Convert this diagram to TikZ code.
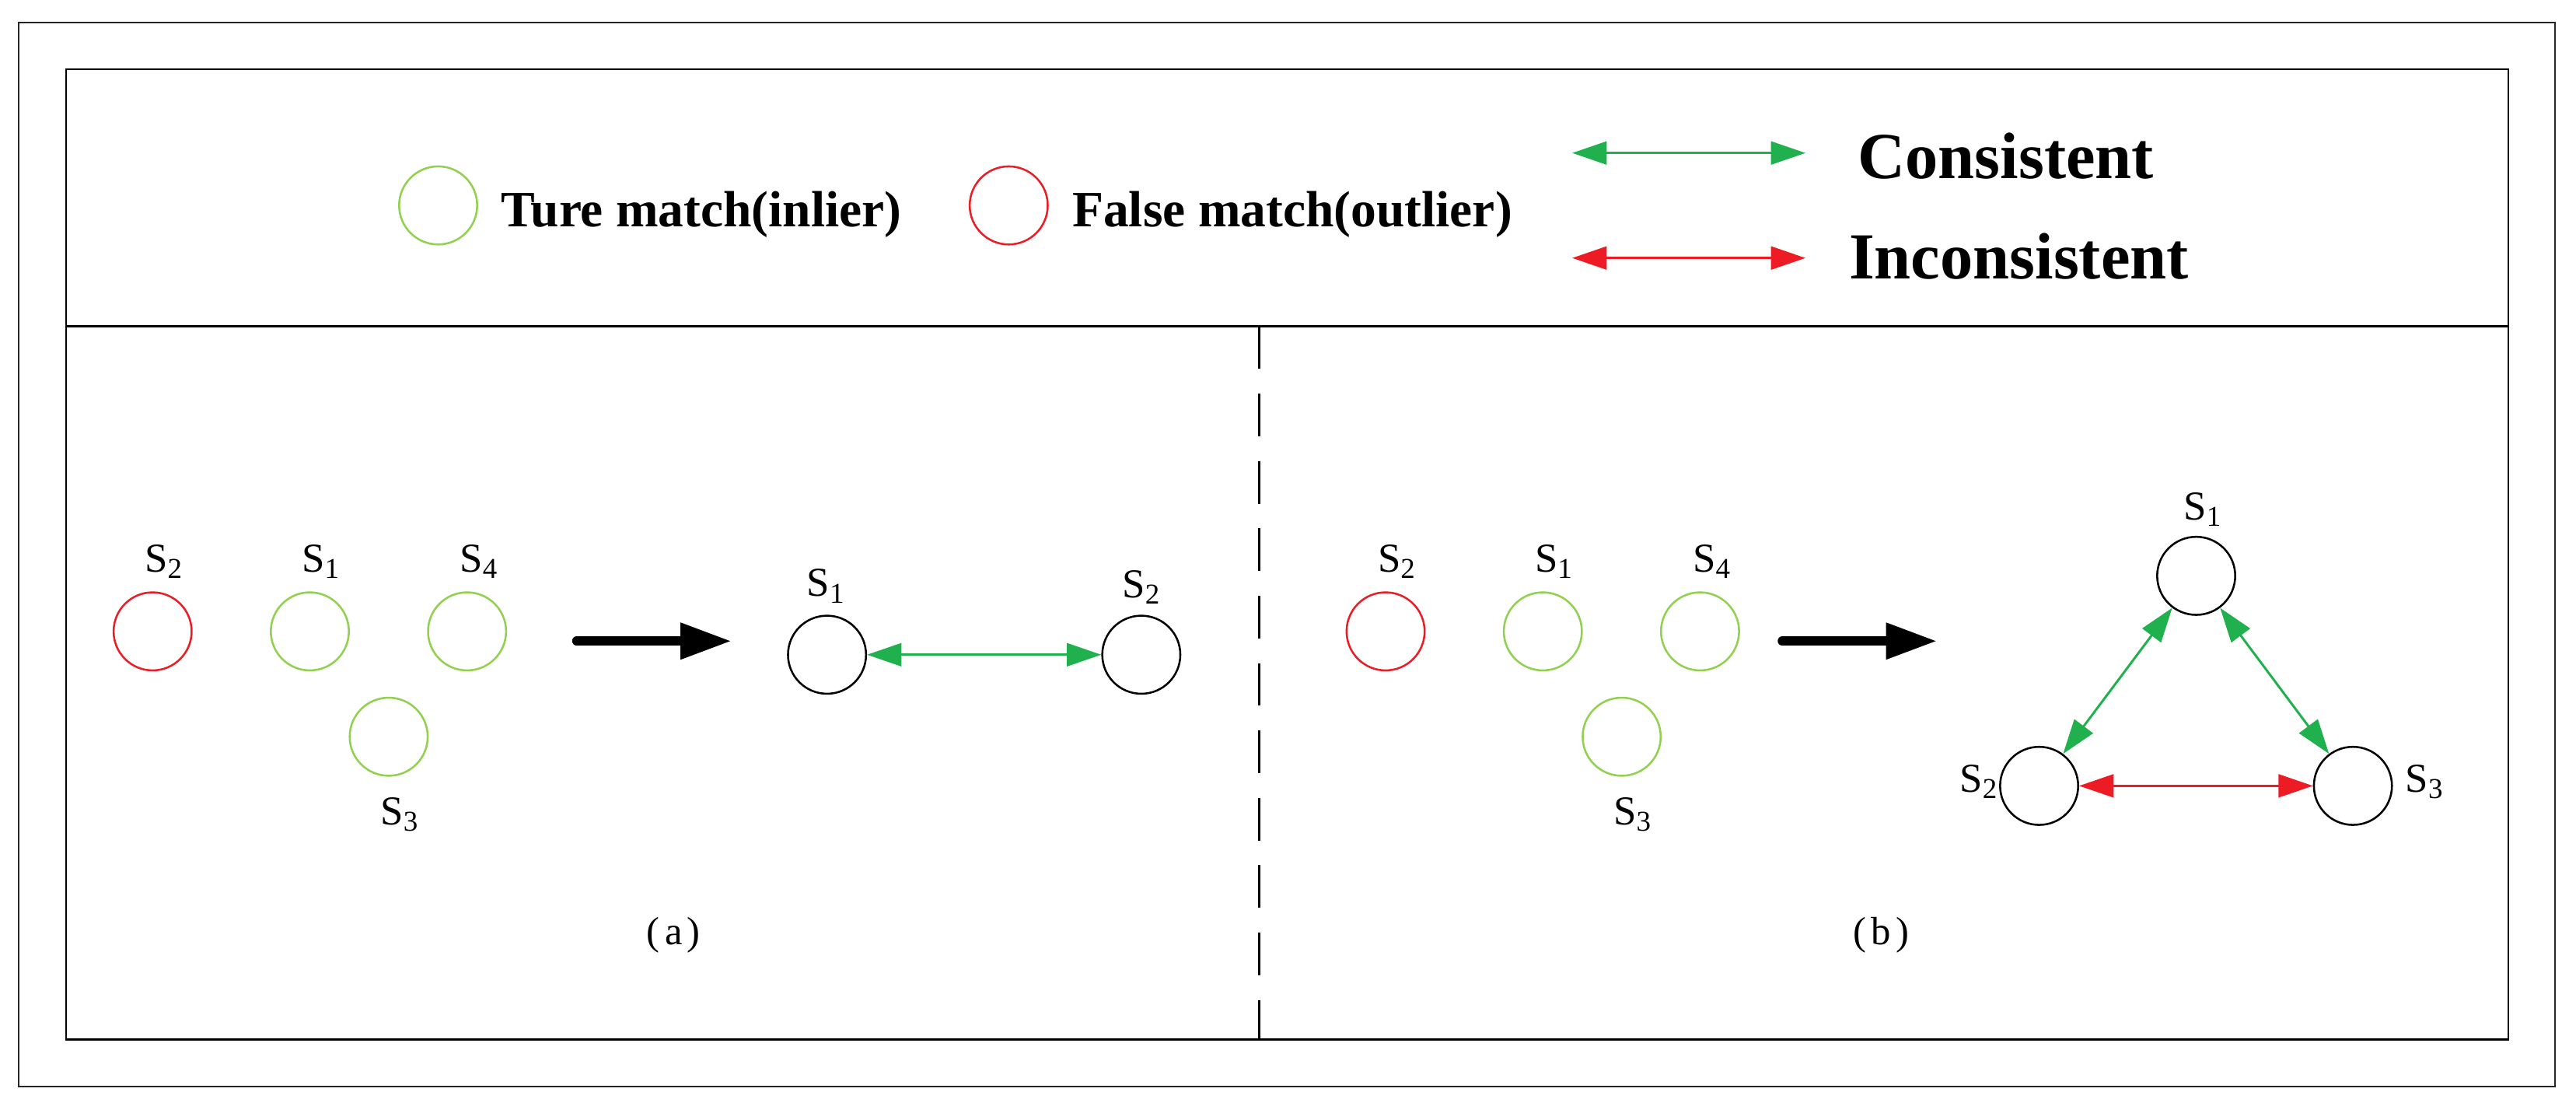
\documentclass[tikz,border=0pt]{standalone}
\usepackage{fontspec}
\setmainfont{Liberation Serif}
\usetikzlibrary{arrows.meta}
\definecolor{lgreen}{RGB}{146,208,80}
\definecolor{cred}{RGB}{234,30,38}
\definecolor{agreen}{RGB}{32,176,78}
\definecolor{ared}{RGB}{237,28,36}
\newcommand\Ssub[1]{S\raisebox{-4pt}{\fontsize{17.5}{18}\selectfont #1}}
\begin{document}
\begin{tikzpicture}[x=1pt,y=-1pt,
  pt/.style={circle,draw,line width=1.2pt,minimum size=47.5pt,inner sep=0pt},
  inl/.style={pt,draw=lgreen},
  outl/.style={pt,draw=cred},
  plainpt/.style={pt,draw=black},
  lab/.style={anchor=base west,inner sep=0pt,font=\fontsize{25}{30}\selectfont},
  subcap/.style={anchor=base,inner sep=0pt,font=\fontsize{24}{28}\selectfont},
  legtxt/.style={anchor=base west,inner sep=0pt,font=\bfseries\fontsize{31}{36}\selectfont},
  bigtxt/.style={anchor=base west,inner sep=0pt,font=\bfseries\fontsize{40}{46}\selectfont},
  cons/.style={color=agreen,line width=1.4pt,{Triangle[length=21pt,width=14pt]}-{Triangle[length=21pt,width=14pt]}},
  incons/.style={color=ared,line width=1.4pt,{Triangle[length=21pt,width=14pt]}-{Triangle[length=21pt,width=14pt]}},
  bigarrow/.style={line width=5.5pt,line cap=round,-{Triangle[length=31pt,width=21pt]}},
  framel/.style={line width=1.2pt}
]
\useasboundingbox (0,0) rectangle (1568,677);
% frames
\draw[line width=1pt,black!85] (11.4,13.9) rectangle (1555.2,661);
\draw[framel] (40.2,42.2) rectangle (1526.7,632.6);
\coordinate (dl) at (40.2,198.5);
\coordinate (dr) at (1526.7,198.5);
\draw[framel] (dl) -- (dr);
\coordinate (vt) at (766.4,198.5);
\coordinate (vb) at (766.4,632.6);
\draw[line width=1.3pt,dash pattern=on 26pt off 15pt] (vt) -- (vb);

% legend
\node[inl] (lgin) at (266.7,125) {};
\node[legtxt] (ltin) at (305,138) {Ture match(inlier)};
\node[outl] (lgout) at (614,125) {};
\node[legtxt] (ltout) at (652.5,138) {False match(outlier)};
\coordinate (c1a) at (957,93.1);
\coordinate (c1b) at (1099,93.1);
\draw[cons] (c1a) -- (c1b);
\coordinate (c2a) at (957,157);
\coordinate (c2b) at (1099,157);
\draw[incons] (c2a) -- (c2b);
\node[bigtxt] (tcons) at (1130.7,108.5) {Consistent};
\node[bigtxt] (tincons) at (1125.3,169.6) {Inconsistent};

% panel (a)
\node[outl] (a2) at (92.9,384.2) {};
\node[inl] (a1) at (188.6,384.2) {};
\node[inl] (a4) at (284.3,384.2) {};
\node[inl] (a3) at (236.6,448.3) {};
\node[lab] (la2) at (88,348) {\Ssub{2}};
\node[lab] (la1) at (183.6,348) {\Ssub{1}};
\node[lab] (la4) at (279.7,348) {\Ssub{4}};
\node[lab] (la3) at (231.5,501.7) {\Ssub{3}};
\coordinate (aas) at (351,390.1);
\coordinate (aae) at (445.2,390.1);
\draw[bigarrow] (aas) -- (aae);
\node[plainpt] (A1) at (503.4,398.4) {};
\node[plainpt] (A2) at (694.7,398.4) {};
\node[lab] (lA1) at (491,362.8) {\Ssub{1}};
\node[lab] (lA2) at (683,363.5) {\Ssub{2}};
\draw[cons] (A1) -- (A2);
\node[subcap] (capa) at (410,575) {(\kern3pt a\kern3pt)};

% panel (b)
\node[outl] (b2) at (843.4,384.2) {};
\node[inl] (b1) at (939.1,384.2) {};
\node[inl] (b4) at (1034.8,384.2) {};
\node[inl] (b3) at (987.1,448.3) {};
\node[lab] (lb2) at (838.5,348) {\Ssub{2}};
\node[lab] (lb1) at (934.1,348) {\Ssub{1}};
\node[lab] (lb4) at (1030.2,348) {\Ssub{4}};
\node[lab] (lb3) at (982,501.7) {\Ssub{3}};
\coordinate (bas) at (1084.8,390.1);
\coordinate (bae) at (1179,390.1);
\draw[bigarrow] (bas) -- (bae);
\node[plainpt] (T1) at (1336.8,350.4) {};
\node[plainpt] (T2) at (1241.2,478.2) {};
\node[plainpt] (T3) at (1432.2,478.2) {};
\node[lab] (lT1) at (1329,316.3) {\Ssub{1}};
\node[lab] (lT2) at (1192.7,482) {\Ssub{2}};
\node[lab] (lT3) at (1464,482) {\Ssub{3}};
\draw[cons] (T1) -- (T2);
\draw[cons] (T1) -- (T3);
\draw[incons] (T2) -- (T3);
\node[subcap] (capb) at (1145,575) {(\kern3pt b\kern3pt)};
\end{tikzpicture}
\end{document}
